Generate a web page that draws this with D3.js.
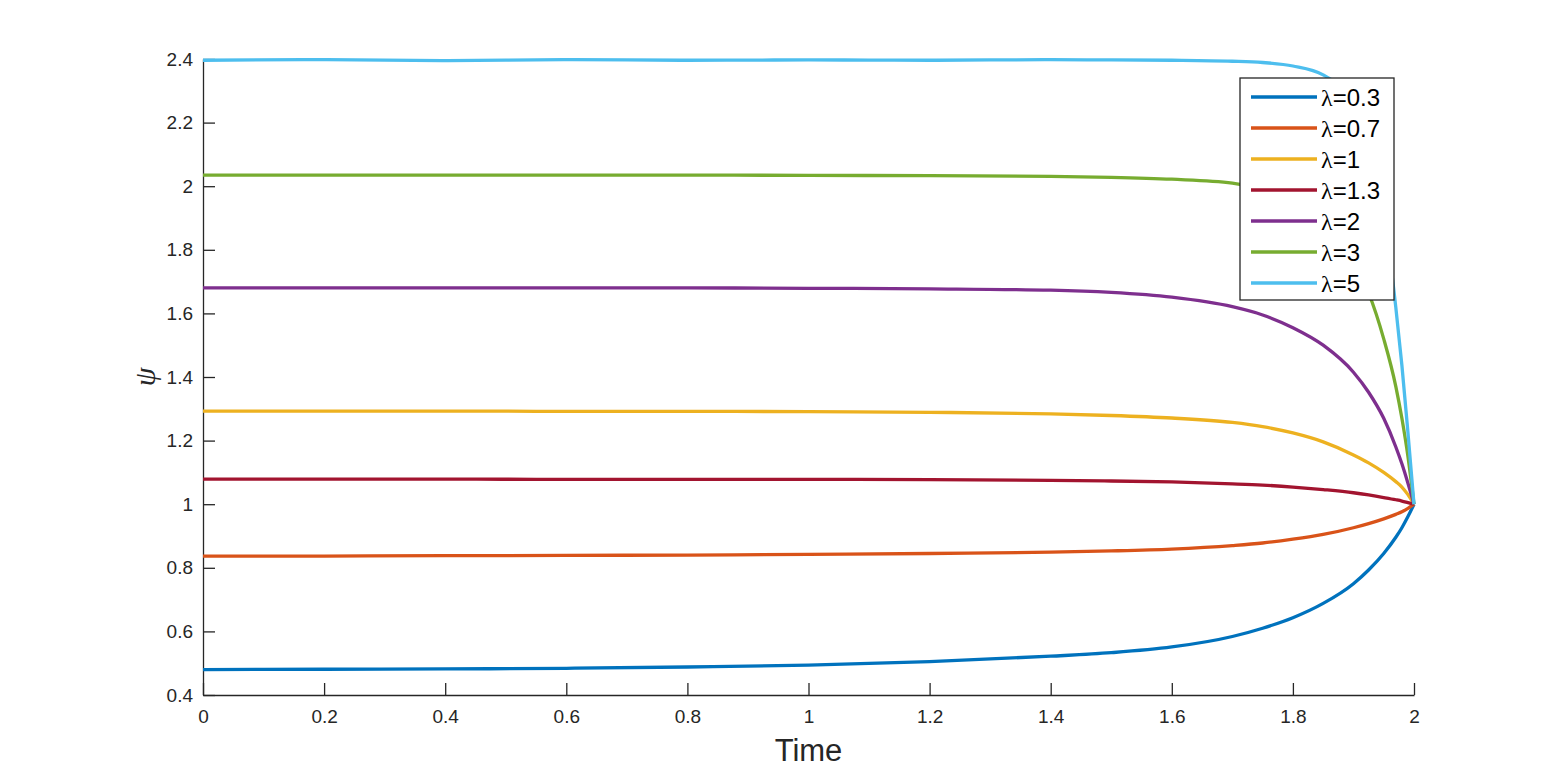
<!DOCTYPE html>
<html>
<head>
<meta charset="utf-8">
<script src="https://cdn.jsdelivr.net/npm/d3@7"></script>
<style>
  html, body { margin: 0; padding: 0; background: #fff; overflow: hidden; }
  svg { display: block; }
</style>
</head>
<body>
<div id="chart"></div>
<script>
// values
const time = [0, 0.2, 0.4, 0.6, 0.8, 1.0, 1.2, 1.4, 1.5, 1.6, 1.7, 1.75, 1.8, 1.85, 1.9, 1.925, 1.95, 1.97, 1.98, 1.99, 2.0];

const lambdas = ["0.3", "0.7", "1", "1.3", "2", "3", "5"];

const psi03 = [0.480, 0.481, 0.482, 0.484, 0.488, 0.494, 0.505, 0.522, 0.533, 0.551, 0.584, 0.610, 0.643, 0.688, 0.750, 0.793, 0.845, 0.896, 0.926, 0.961, 1.0];
const psi07 = [0.837, 0.837, 0.838, 0.839, 0.840, 0.842, 0.845, 0.849, 0.853, 0.859, 0.870, 0.878, 0.890, 0.905, 0.926, 0.939, 0.954, 0.968, 0.976, 0.987, 1.0];
const psi1  = [1.293, 1.293, 1.293, 1.292, 1.292, 1.291, 1.289, 1.284, 1.279, 1.271, 1.257, 1.244, 1.224, 1.196, 1.155, 1.130, 1.100, 1.071, 1.054, 1.030, 1.0];
const psi13 = [1.079, 1.079, 1.079, 1.078, 1.078, 1.078, 1.077, 1.075, 1.073, 1.070, 1.064, 1.060, 1.054, 1.046, 1.036, 1.029, 1.021, 1.014, 1.010, 1.005, 1.0];
const psi2  = [1.680, 1.680, 1.680, 1.680, 1.680, 1.679, 1.677, 1.673, 1.666, 1.651, 1.621, 1.595, 1.555, 1.500, 1.415, 1.352, 1.270, 1.180, 1.127, 1.066, 1.0];
const psi3  = [2.035, 2.035, 2.035, 2.035, 2.035, 2.034, 2.033, 2.031, 2.028, 2.022, 2.010, 1.990, 1.953, 1.886, 1.764, 1.665, 1.520, 1.370, 1.270, 1.150, 1.0];
const psi5  = [2.396, 2.398, 2.395, 2.398, 2.396, 2.397, 2.396, 2.398, 2.397, 2.396, 2.393, 2.389, 2.378, 2.350, 2.262, 2.140, 1.920, 1.618, 1.437, 1.225, 1.0];

const xTicks = [0, 0.2, 0.4, 0.6, 0.8, 1, 1.2, 1.4, 1.6, 1.8, 2];
const yTicks = [0.4, 0.6, 0.8, 1, 1.2, 1.4, 1.6, 1.8, 2, 2.2, 2.4];

const seriesValues = [psi03, psi07, psi1, psi13, psi2, psi3, psi5];
const series = lambdas.map((l, i) => ({
  key: l,
  values: time.map((t, j) => ({ t: t, v: seriesValues[i][j] }))
}));

const colors = ["#0072BD", "#D95319", "#EDB120", "#A2142F", "#7E2F8E", "#77AC30", "#4DBEEE"];

/*******************************/
/*        Dimensions           */
/*******************************/
const width = 1563;
const height = 782;
const margin = { top: 59, right: 149, bottom: 87, left: 203 };
const innerWidth = width - margin.left - margin.right;
const innerHeight = height - margin.top - margin.bottom;
const sans = "Liberation Sans, Arial, sans-serif";
const serif = "Liberation Serif, DejaVu Serif, serif";

const svg = d3.select("#chart").append("svg")
  .attr("width", width)
  .attr("height", height)
  .attr("viewBox", [0, 0, width, height]);

const innerChart = svg.append("g")
  .attr("transform", `translate(${margin.left}, ${margin.top})`);

const xScale = d3.scaleLinear().domain([0, 2]).range([0, innerWidth]);
const yScale = d3.scaleLinear().domain([0.4, 2.4]).range([innerHeight, 0]);
const colorScale = d3.scaleOrdinal().domain(lambdas).range(colors);

const fmt = d => String(+d.toFixed(1));

/*******************************/
/*           Axes              */
/*******************************/
const xAxis = innerChart.append("g")
  .attr("transform", `translate(0, ${innerHeight})`)
  .call(d3.axisBottom(xScale)
    .tickValues(xTicks)
    .tickFormat(fmt)
    .tickSizeInner(-12)
    .tickSizeOuter(0)
    .tickPadding(15));

const yAxis = innerChart.append("g")
  .call(d3.axisLeft(yScale)
    .tickValues(yTicks)
    .tickFormat(fmt)
    .tickSizeInner(-12)
    .tickSizeOuter(0)
    .tickPadding(10));

[xAxis, yAxis].forEach(ax => {
  ax.attr("font-family", sans).attr("font-size", 19);
  ax.select(".domain").attr("stroke", "#262626").attr("stroke-width", 1.3);
  ax.selectAll(".tick line").attr("stroke", "#262626").attr("stroke-width", 1.3);
  ax.selectAll(".tick text").attr("fill", "#262626");
});

/*******************************/
/*           Lines             */
/*******************************/
const lineGenerator = d3.line()
  .x(d => xScale(d.t))
  .y(d => yScale(d.v))
  .curve(d3.curveMonotoneX);

innerChart.selectAll(".psi-line")
  .data(series)
  .join("path")
    .attr("class", "psi-line")
    .attr("d", d => lineGenerator(d.values))
    .attr("fill", "none")
    .attr("stroke", d => colorScale(d.key))
    .attr("stroke-width", 3.3)
    .attr("stroke-linejoin", "round");

/*******************************/
/*          Labels             */
/*******************************/
svg.append("text")
  .attr("x", margin.left + innerWidth / 2)
  .attr("y", 761)
  .attr("text-anchor", "middle")
  .attr("font-family", sans)
  .attr("font-size", 31)
  .attr("fill", "#262626")
  .text("Time");

svg.append("text")
  .attr("transform", `translate(155, ${margin.top + innerHeight / 2}) rotate(-90)`)
  .attr("text-anchor", "middle")
  .attr("font-family", serif)
  .attr("font-style", "italic")
  .attr("font-size", 30)
  .attr("fill", "#262626")
  .text("ψ");

/*******************************/
/*          Legend             */
/*******************************/
const legendX = 1240, legendY = 78, legendW = 154, legendH = 222;
const rowStep = 31;

const legend = svg.append("g")
  .attr("transform", `translate(${legendX}, ${legendY})`);

legend.append("rect")
  .attr("width", legendW)
  .attr("height", legendH)
  .attr("fill", "#fff")
  .attr("stroke", "#262626")
  .attr("stroke-width", 1.3);

const items = legend.selectAll(".legend-item")
  .data(lambdas)
  .join("g")
    .attr("class", "legend-item")
    .attr("transform", (d, i) => `translate(0, ${19 + i * rowStep})`);

items.append("line")
  .attr("x1", 11)
  .attr("x2", 77)
  .attr("stroke", d => colorScale(d))
  .attr("stroke-width", 3.3);

const labels = items.append("text")
  .attr("x", 81)
  .attr("dy", "0.36em")
  .attr("font-family", sans)
  .attr("font-size", 24)
  .attr("fill", "#000");

labels.append("tspan")
  .attr("font-family", serif)
  .text("λ");
labels.append("tspan")
  .text(d => "=" + d);
</script>
</body>
</html>
